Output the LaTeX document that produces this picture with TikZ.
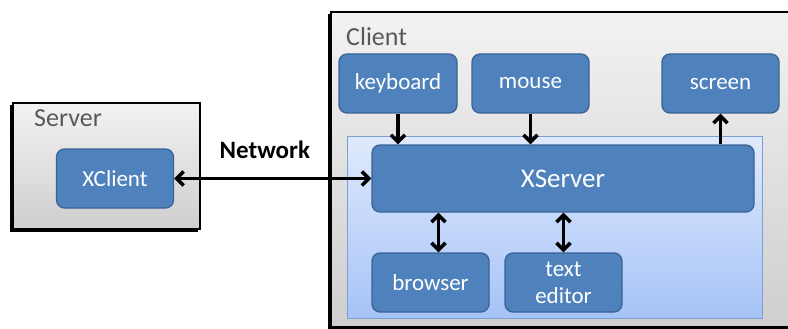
\documentclass[tikz,border=0pt]{standalone}
\usepackage{fontspec}
\setmainfont{Carlito}
\usetikzlibrary{arrows.meta,calc}
\definecolor{nodefill}{HTML}{4F81BD}
\definecolor{nodeedge}{HTML}{3A6394}
\definecolor{labgray}{HTML}{595959}
\tikzset{
  blk/.style={draw=nodeedge, line width=1.3pt, fill=nodefill, rounded corners=8pt,
    text=white, font=\fontsize{23}{27}\selectfont, align=center, inner sep=0pt},
  tip/.tip={Straight Barb[length=7pt,width=14pt,line width=3.6pt]},
  arr/.style={line width=3.8pt, -tip},
  darr/.style={line width=3.8pt, tip-tip},
  outer/.style={draw=black, line width=2.4pt, top color=gray!10, bottom color=gray!38},
  grouplabel/.style={text=labgray, font=\fontsize{26}{29}\selectfont, anchor=west, inner sep=0pt}
}
\begin{document}
\begin{tikzpicture}[x=1pt,y=-1pt]
\useasboundingbox (0,0) rectangle (788,329);
\fill[white] (0,0) rectangle (788,329);
% Server box
\fill[black] (10,105) rectangle (198,232);
\path[outer] (13,103) rectangle (200,229);
\node[grouplabel] (serverlab) at (34,118) {Server};
% Client box
\fill[black] (328,14) rectangle (800,331);
\path[outer] (331,12) rectangle (800,327);
\node[grouplabel] (clientlab) at (346,37) {Client};
% inner blue box
\path[draw={rgb,255:red,122;green,160;blue,212}, line width=1pt,
  top color={rgb,255:red,224;green,234;blue,252}, bottom color={rgb,255:red,166;green,195;blue,247}]
  (347,136) rectangle (762,318);
% nodes
\node[blk, minimum width=117pt, minimum height=59pt] (xclient) at (115,178.5) {XClient};
\node[blk, minimum width=118pt, minimum height=59pt] (keyboard) at (398,83.5) {keyboard};
\node[blk, minimum width=117pt, minimum height=59pt] (mouse) at (530.5,83.5) {mouse};
\node[blk, minimum width=117pt, minimum height=59pt] (screen) at (720.5,83.5) {screen};
\node[blk, minimum width=382pt, minimum height=67pt, font=\fontsize{27}{30}\selectfont] (xserver) at (563,178.5) {XServer};
\node[blk, minimum width=117pt, minimum height=59pt] (browser) at (430.5,282.5) {browser};
\node[blk, minimum width=117pt, minimum height=59pt, font=\fontsize{23}{27}\selectfont] (editor) at (563.5,282.5) {text\\editor};
\coordinate (bt) at ($(browser.north)+(8,0)$);
% connectors
\draw[darr] (xclient.east) -- node[pos=0.46, above=15pt, font=\bfseries\fontsize{25}{28}\selectfont, text=black] (netlab) {Network} (xserver.west);
\draw[arr] (keyboard.south) -- (keyboard.south |- xserver.north);
\draw[arr] (mouse.south) -- (mouse.south |- xserver.north);
\draw[arr] (screen.south |- xserver.north) -- (screen.south);
\draw[darr] (bt) -- (bt |- xserver.south);
\draw[darr] (editor.north) -- (editor.north |- xserver.south);
\end{tikzpicture}
\end{document}
